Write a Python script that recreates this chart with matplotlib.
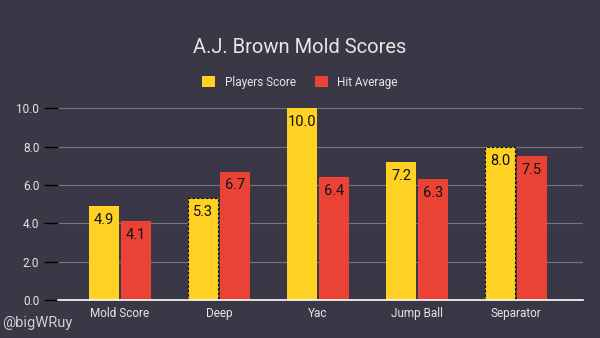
import matplotlib.pyplot as plt
import numpy as np

plt.rcParams['font.family'] = ['Roboto', 'DejaVu Sans']

# data
categories = ["Mold Score", "Deep", "Yac", "Jump Ball", "Separator"]
players_score = [4.9, 5.3, 10.0, 7.2, 8.0]
hit_average = [4.1, 6.7, 6.4, 6.3, 7.5]
dashed_bars = ["Deep", "Separator"]

BG = "#3a3846"
YELLOW = "#fed122"
RED = "#ea4335"
TXT = "#e6e6e6"

fig = plt.figure(figsize=(6, 3.38), dpi=100, facecolor=BG)
ax = fig.add_axes([0.0967, 0.1124, 0.875, 0.568])
ax.set_facecolor(BG)

x = np.arange(len(categories))
w = 0.303
gap = 0.01

b1 = ax.bar(x - w / 2 - gap, players_score, w, color=YELLOW, label="Players Score", zorder=3)
b2 = ax.bar(x + w / 2 + gap, hit_average, w, color=RED, label="Hit Average", zorder=3)

for bar, cat in zip(b1, categories):
    if cat in dashed_bars:
        bar.set_edgecolor("black")
        bar.set_linestyle((0, (2, 2)))
        bar.set_linewidth(0.8)

for bars, vals in ((b1, players_score), (b2, hit_average)):
    for bar, v in zip(bars, vals):
        ax.text(bar.get_x() + bar.get_width() / 2, v - 0.72, f"{v:.1f}",
                ha="center", va="center", fontsize=10.5, color="#111111", zorder=4)

ax.set_xlim(-0.626, 4.677)
ax.set_ylim(0, 10.02)
ax.set_yticks(np.arange(0, 10.1, 2))
ax.set_yticklabels([f"{t:.1f}" for t in np.arange(0, 10.1, 2)])
ax.set_xticks(x)
ax.set_xticklabels(categories)
ax.tick_params(axis="y", colors="black", labelcolor=TXT, labelsize=8.5, length=10, width=1)
ax.tick_params(axis="x", length=0, labelcolor=TXT, labelsize=8.5, pad=5)
ax.grid(axis="y", color="#77757f", lw=0.8, zorder=0)
for s in ["top", "right", "left"]:
    ax.spines[s].set_visible(False)
ax.spines["bottom"].set_color("white")
ax.spines["bottom"].set_linewidth(1.2)
ax.spines["bottom"].set_zorder(5)

fig.text(0.5, 0.858, "A.J. Brown Mold Scores", ha="center", va="center",
         fontsize=14.5, color=TXT)
fig.legend(handles=[b1, b2], loc="center", bbox_to_anchor=(0.5, 0.757), ncol=2,
           frameon=False, fontsize=8.5, labelcolor=TXT, handlelength=1.1,
           handleheight=1.1, columnspacing=1.6, handletextpad=0.8)
fig.text(0.004, 0.045, "@bigWRuy", ha="left", va="center", fontsize=10.5, color="#cfcfcf")

plt.savefig("out.png", dpi=100, facecolor=BG)
